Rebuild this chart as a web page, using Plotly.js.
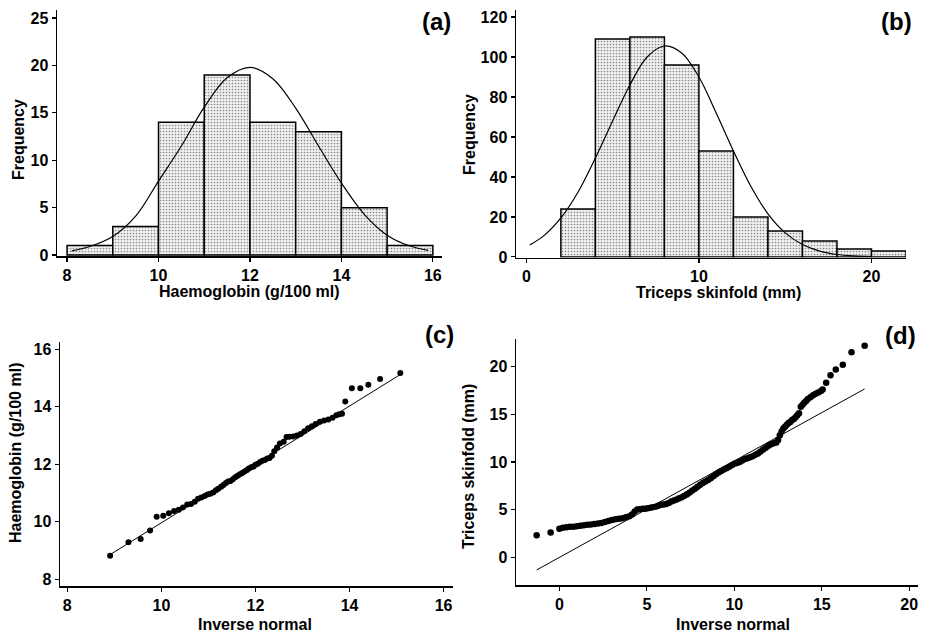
<!DOCTYPE html>
<html>
<head>
<meta charset="utf-8">
<script src="https://cdn.plot.ly/plotly-3.0.1.min.js"></script>
<style>html,body{margin:0;padding:0;background:#fff;}#chart{width:926px;height:633px;}</style>
</head>
<body>
<div id="chart"></div>
<script>
// ---- Panel (a): haemoglobin histogram ----
const hbBinCenters = [8.5, 9.5, 10.5, 11.5, 12.5, 13.5, 14.5, 15.5];
const hbFreq = [1, 3, 14, 19, 14, 13, 5, 1];
const hbCurveX = [8.1, 8.5, 9, 9.5, 10, 10.5, 11, 11.5, 12, 12.5, 13, 13.5, 14, 14.5, 15, 15.5, 15.9];
const hbCurveY = [0.45, 0.9, 1.95, 4.1, 7.8, 11.5, 15.6, 18.7, 19.8, 18.6, 15.5, 11.5, 7.6, 4.3, 2.1, 0.95, 0.5];

// ---- Panel (b): triceps skinfold histogram ----
const tsBinCenters = [3, 5, 7, 9, 11, 13, 15, 17, 19, 21];
const tsFreq = [24, 109, 110, 96, 53, 20, 13, 8, 4, 3];
const tsCurveX = [0.2, 1, 2, 3, 4, 5, 6, 7, 8, 9, 10, 11, 12, 13, 14, 15, 16, 17, 18, 19, 20];
const tsCurveY = [6, 10.5, 19.5, 32.5, 49.5, 68, 86, 100, 105.5, 102, 90, 72, 53, 35.5, 21.5, 12, 6.2, 2.9, 1.2, 0.5, 0.2];

// ---- Panel (c): haemoglobin normal plot ----
const hbQQx = [8.91, 9.30, 9.56, 9.76, 9.90, 10.04, 10.16, 10.27, 10.37, 10.46, 10.55, 10.63, 10.71, 10.78, 10.85, 10.92, 10.98, 11.04,
  11.10, 11.16, 11.21, 11.27, 11.32, 11.37, 11.42, 11.47, 11.52, 11.57, 11.62, 11.67, 11.72, 11.77, 11.82, 11.86, 11.91, 11.96, 12.00,
  12.05, 12.10, 12.15, 12.20, 12.25, 12.30, 12.35, 12.40, 12.46, 12.52, 12.60, 12.66, 12.72, 12.80,
  12.88, 12.96, 13.04, 13.12, 13.20, 13.28, 13.37, 13.46, 13.55, 13.64, 13.72, 13.78, 13.84,
  13.91, 14.05, 14.23, 14.40, 14.65, 15.08];
const hbQQy = [8.82, 9.29, 9.40, 9.70, 10.18, 10.21, 10.30, 10.38, 10.42, 10.50, 10.60, 10.62, 10.70, 10.80, 10.85, 10.90, 10.95, 10.98,
  11.02, 11.10, 11.15, 11.22, 11.28, 11.35, 11.40, 11.42, 11.48, 11.55, 11.60, 11.65, 11.70, 11.75, 11.80, 11.85, 11.90, 11.92, 11.98,
  12.02, 12.08, 12.12, 12.15, 12.20, 12.22, 12.30, 12.45, 12.58, 12.72, 12.78, 12.95, 12.96, 12.97,
  13.00, 13.05, 13.15, 13.25, 13.32, 13.40, 13.48, 13.52, 13.56, 13.62, 13.70, 13.74, 13.76,
  14.18, 14.64, 14.64, 14.76, 14.96, 15.17];
const hbLineX = [8.9, 15.08];
const hbLineY = [8.85, 15.12];

// ---- Panel (d): triceps skinfold normal plot ----
const tsQQx = [-1.3, -0.5, 0.0, 0.2, 0.4, 0.6, 0.8, 1.0, 1.2, 1.4, 1.6, 1.8, 2.0, 2.2, 2.4, 2.6, 2.8, 3.0, 3.2, 3.4, 3.6, 3.8,
  4.0, 4.15, 4.3, 4.45, 4.6, 4.75, 4.9, 5.05, 5.2, 5.35, 5.5, 5.65, 5.8, 5.95, 6.1, 6.25, 6.4, 6.55, 6.7, 6.85,
  7.0, 7.15, 7.3, 7.45, 7.6, 7.75, 7.9, 8.05, 8.2, 8.35, 8.5, 8.65, 8.8, 8.95, 9.1, 9.25, 9.4, 9.55, 9.7, 9.85,
  10.0, 10.15, 10.3, 10.45, 10.6, 10.75, 10.9, 11.05, 11.2, 11.35, 11.5, 11.65, 11.8, 11.95, 12.1, 12.25, 12.4,
  12.5, 12.6, 12.7, 12.8, 12.9, 13.0, 13.1, 13.2, 13.3, 13.4, 13.5, 13.6, 13.7, 13.8, 13.9, 14.0, 14.1,
  14.2, 14.35, 14.5, 14.65, 14.8, 14.95, 15.05, 15.25, 15.5, 15.8, 16.2, 16.7, 17.45];
const tsQQy = [2.3, 2.6, 3.0, 3.1, 3.15, 3.2, 3.2, 3.25, 3.3, 3.35, 3.4, 3.45, 3.5, 3.55, 3.6, 3.7, 3.8, 3.9, 4.0, 4.05, 4.1, 4.2,
  4.3, 4.5, 4.8, 5.0, 5.05, 5.1, 5.1, 5.15, 5.2, 5.25, 5.3, 5.4, 5.5, 5.55, 5.6, 5.7, 5.85, 5.95, 6.05, 6.2,
  6.3, 6.45, 6.6, 6.8, 7.0, 7.2, 7.4, 7.6, 7.8, 7.95, 8.1, 8.3, 8.5, 8.7, 8.9, 9.05, 9.2, 9.35, 9.5, 9.65,
  9.8, 9.9, 10.0, 10.15, 10.3, 10.4, 10.5, 10.6, 10.75, 10.9, 11.1, 11.3, 11.5, 11.7, 11.85, 11.95, 12.05,
  12.3, 12.8, 13.2, 13.5, 13.7, 13.9, 14.1, 14.2, 14.4, 14.5, 14.7, 14.9, 15.1, 15.8, 16.0, 16.2, 16.4,
  16.6, 16.8, 17.0, 17.15, 17.3, 17.45, 17.6, 18.3, 19.1, 19.7, 20.2, 21.5, 22.2];
const tsLineX = [-1.3, 17.45];
const tsLineY = [-1.33, 17.66];

// ---- helpers ----
const W = 926, H = 633;
const px = v => v / W;
const py = v => 1 - v / H;
const FONT = {family: 'Liberation Sans, Arial, sans-serif', size: 16, color: '#000', weight: 700};
const barPattern = {shape: '.', fgcolor: '#8a8a8a', bgcolor: '#f1f1f1', size: 3, solidity: 0.25};

function axis(range, tickvals, domain, anchor) {
  return {
    range: range, tickvals: tickvals, domain: domain, anchor: anchor,
    showline: true, linecolor: '#000', linewidth: 1.5,
    ticks: 'outside', ticklen: 4, tickwidth: 1.2, tickcolor: '#000',
    showgrid: false, zeroline: false, tickfont: FONT, fixedrange: true
  };
}

const traces = [
  {type: 'bar', x: hbBinCenters, y: hbFreq, width: 1, xaxis: 'x', yaxis: 'y',
   marker: {color: '#f1f1f1', pattern: barPattern, line: {color: '#000', width: 1.5}}},
  {type: 'scatter', mode: 'lines', x: hbCurveX, y: hbCurveY, xaxis: 'x', yaxis: 'y',
   line: {color: '#000', width: 1.2, shape: 'spline'}},
  {type: 'bar', x: tsBinCenters, y: tsFreq, width: 2, xaxis: 'x2', yaxis: 'y2',
   marker: {color: '#f1f1f1', pattern: barPattern, line: {color: '#000', width: 1.5}}},
  {type: 'scatter', mode: 'lines', x: tsCurveX, y: tsCurveY, xaxis: 'x2', yaxis: 'y2',
   line: {color: '#000', width: 1.2, shape: 'spline'}},
  {type: 'scatter', mode: 'lines', x: hbLineX, y: hbLineY, xaxis: 'x3', yaxis: 'y3',
   line: {color: '#000', width: 1}},
  {type: 'scatter', mode: 'markers', x: hbQQx, y: hbQQy, xaxis: 'x3', yaxis: 'y3',
   marker: {color: '#000', size: 6}},
  {type: 'scatter', mode: 'lines', x: tsLineX, y: tsLineY, xaxis: 'x4', yaxis: 'y4',
   line: {color: '#000', width: 1}},
  {type: 'scatter', mode: 'markers', x: tsQQx, y: tsQQy, xaxis: 'x4', yaxis: 'y4',
   marker: {color: '#000', size: 6.5}}
];

function ann(text, x, y, size, angle) {
  return {text: text, x: px(x), y: py(y), xref: 'paper', yref: 'paper', showarrow: false,
    xanchor: 'center', yanchor: 'middle', textangle: angle || 0,
    font: Object.assign({}, FONT, {size: size})};
}

const layout = {
  width: W, height: H, margin: {l: 0, r: 0, t: 0, b: 0},
  paper_bgcolor: '#fff', plot_bgcolor: 'rgba(0,0,0,0)', showlegend: false, bargap: 0,
  xaxis: axis([7.78, 16.2], [8, 10, 12, 14, 16], [px(57), px(442)], 'y'),
  yaxis: axis([-0.1, 25.85], [0, 5, 10, 15, 20, 25], [py(256), py(10)], 'x'),
  xaxis2: axis([-0.6, 22.0], [0, 10, 20], [px(516), px(906)], 'y2'),
  yaxis2: axis([-0.3, 123.5], [0, 20, 40, 60, 80, 100, 120], [py(257.5), py(10)], 'x2'),
  xaxis3: axis([7.845, 16.2], [8, 10, 12, 14, 16], [px(60), px(453)], 'y3'),
  yaxis3: axis([7.77, 16.25], [8, 10, 12, 14, 16], [py(586), py(342)], 'x3'),
  xaxis4: axis([-2.48, 20.5], [0, 5, 10, 15, 20], [px(516), px(918)], 'y4'),
  yaxis4: axis([-2.94, 22.9], [0, 5, 10, 15, 20], [py(585.3), py(339)], 'x4'),
  annotations: [
    ann('(a)', 436, 22, 24), ann('(b)', 896, 22, 24), ann('(c)', 439, 334, 24), ann('(d)', 900, 335, 24),
    ann('Frequency', 18, 140, 16, -90),
    ann('Haemoglobin (g/100 ml)', 249, 291, 16),
    ann('Frequency', 469, 135, 16, -90),
    ann('Triceps skinfold (mm)', 718, 292, 16),
    ann('Haemoglobin (g/100 ml)', 16, 453, 16, -90),
    ann('Inverse normal', 255, 624, 16),
    ann('Triceps skinfold (mm)', 468, 467, 16, -90),
    ann('Inverse normal', 733, 624, 16)
  ]
};

Plotly.newPlot('chart', traces, layout, {displayModeBar: false, staticPlot: true});
</script>
</body>
</html>
